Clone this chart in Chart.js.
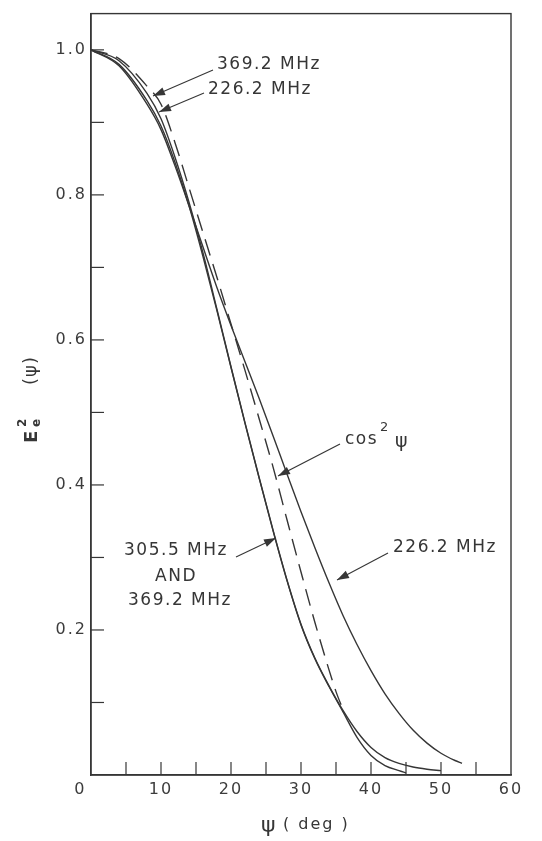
<!DOCTYPE html>
<html><head><meta charset="utf-8">
<script src="https://cdn.jsdelivr.net/npm/chart.js@4.4.1/dist/chart.umd.min.js"></script>
<style>html,body{margin:0;padding:0;background:#fff}canvas{display:block}</style>
</head><body>
<canvas id="c" width="542" height="841"></canvas>
<script>
// ---- data ----
const psi226 = [0, 4, 8, 10, 12, 14, 16, 18, 20, 22, 24, 26, 28, 30, 32, 34, 36, 38, 40, 42, 44, 46, 48, 50, 52, 53];
const e226   = [1.0, 0.978, 0.925, 0.89, 0.84, 0.785, 0.728, 0.672, 0.62, 0.57, 0.52, 0.468, 0.415, 0.363, 0.313, 0.265, 0.22, 0.18, 0.144, 0.112, 0.085, 0.062, 0.044, 0.03, 0.02, 0.016];

const psi305 = [0, 4, 8, 10, 12, 14, 16, 18, 20, 22, 24, 26, 28, 30, 32, 34, 36, 38, 40, 42, 44, 45];
const e305   = [1.0, 0.98, 0.93, 0.895, 0.845, 0.785, 0.715, 0.64, 0.562, 0.485, 0.41, 0.337, 0.268, 0.207, 0.16, 0.122, 0.087, 0.052, 0.027, 0.013, 0.006, 0.003];

const psi369 = [0, 4, 8, 10, 12, 14, 16, 18, 20, 22, 24, 26, 28, 30, 32, 34, 36, 38, 40, 42, 44, 46, 48, 50];
const e369   = [1.0, 0.985, 0.94, 0.905, 0.852, 0.79, 0.72, 0.642, 0.563, 0.486, 0.411, 0.338, 0.269, 0.208, 0.161, 0.123, 0.089, 0.06, 0.038, 0.024, 0.016, 0.011, 0.008, 0.006];

const psiCos = [0, 4, 8, 10, 12, 14, 16, 18, 20, 22, 24, 26, 28, 30, 32, 34, 35, 36];
const eCos   = [1.0, 0.988, 0.95, 0.925, 0.872, 0.81, 0.748, 0.686, 0.622, 0.558, 0.492, 0.425, 0.352, 0.28, 0.21, 0.145, 0.115, 0.09];

const xTickLabels = [0, 10, 20, 30, 40, 50, 60];
const yTickLabels = [0.2, 0.4, 0.6, 0.8, 1.0];

const INK = '#363636';
const FONT = 'DejaVu Sans';
function pts(xs, ys) { return xs.map((x, i) => ({ x: x, y: ys[i] })); }

function arrow(ctx, x1, y1, x2, y2) {
  ctx.beginPath(); ctx.moveTo(x1, y1); ctx.lineTo(x2, y2); ctx.stroke();
  const a = Math.atan2(y2 - y1, x2 - x1), L = 12, W = 4;
  ctx.beginPath();
  ctx.moveTo(x2, y2);
  ctx.lineTo(x2 - L * Math.cos(a) + W * Math.sin(a), y2 - L * Math.sin(a) - W * Math.cos(a));
  ctx.lineTo(x2 - L * Math.cos(a) - W * Math.sin(a), y2 - L * Math.sin(a) + W * Math.cos(a));
  ctx.closePath(); ctx.fill();
}

const decor = {
  id: 'decor',
  beforeDraw(chart) { chart.ctx.letterSpacing = '2px'; },
  afterDraw(chart) {
    const ctx = chart.ctx, a = chart.chartArea, xs = chart.scales.x, ys = chart.scales.y;
    ctx.save();
    ctx.strokeStyle = INK; ctx.fillStyle = INK; ctx.lineWidth = 1.4;
    ctx.strokeRect(a.left, a.top, a.right - a.left, a.bottom - a.top);
    // inward ticks
    ctx.lineWidth = 1.2;
    for (let v = 5; v < 60; v += 5) {
      const px = xs.getPixelForValue(v);
      ctx.beginPath(); ctx.moveTo(px, a.bottom); ctx.lineTo(px, a.bottom - 13); ctx.stroke();
    }
    for (let i = 1; i <= 10; i++) {
      const py = ys.getPixelForValue(i / 10);
      ctx.beginPath(); ctx.moveTo(a.left, py); ctx.lineTo(a.left + 13, py); ctx.stroke();
    }
    // annotations
    ctx.letterSpacing = '1.5px';
    ctx.font = '17px "' + FONT + '"';
    ctx.textBaseline = 'middle'; ctx.textAlign = 'left';
    ctx.lineWidth = 1.1;
    ctx.fillText('369.2 MHz', 217, 65);
    arrow(ctx, 213, 70, 153, 96);
    ctx.fillText('226.2 MHz', 208, 90);
    arrow(ctx, 204, 93, 159, 112);

    ctx.fillText('cos', 345, 440);
    ctx.font = '13px "' + FONT + '"';
    ctx.fillText('2', 380, 428);
    ctx.font = '19px "' + FONT + '"';
    ctx.fillText('\u03C8', 395, 442);
    arrow(ctx, 340, 444, 278, 476);

    ctx.font = '17px "' + FONT + '"';
    ctx.fillText('226.2 MHz', 393, 548);
    arrow(ctx, 388, 553, 337, 580);

    ctx.textAlign = 'center';
    ctx.fillText('305.5 MHz', 176, 551);
    ctx.fillText('AND', 176, 577);
    ctx.fillText('369.2 MHz', 180, 601);
    arrow(ctx, 236, 557, 276, 538);

    // x title
    ctx.textAlign = 'left';
    ctx.font = '22px "' + FONT + '"';
    ctx.fillText('\u03C8', 261, 826);
    ctx.font = '16px "' + FONT + '"';
    ctx.letterSpacing = '2px';
    ctx.fillText('( deg )', 283, 825);

    // y title (rotated)
    ctx.translate(31, 437);
    ctx.rotate(-Math.PI / 2);
    ctx.letterSpacing = '0px';
    ctx.font = 'bold 18px "' + FONT + '"';
    ctx.fillText('E', -6, 1);
    ctx.font = 'bold 12px "' + FONT + '"';
    ctx.fillText('2', 10, -8);
    ctx.fillText('e', 10, 6);
    ctx.letterSpacing = '1px';
    ctx.font = '18px "' + FONT + '"';
    ctx.fillText('(\u03C8)', 52, 0);
    ctx.restore();
  }
};

const lineStyle = { borderColor: INK, borderWidth: 1.4, pointRadius: 0, fill: false, cubicInterpolationMode: 'monotone' };

new Chart(document.getElementById('c'), {
  type: 'line',
  data: {
    datasets: [
      Object.assign({ label: '226.2 MHz', data: pts(psi226, e226) }, lineStyle),
      Object.assign({ label: '305.5 MHz', data: pts(psi305, e305) }, lineStyle),
      Object.assign({ label: '369.2 MHz', data: pts(psi369, e369) }, lineStyle),
      Object.assign({ label: 'cos\u00B2 \u03C8', data: pts(psiCos, eCos), borderDash: [17, 9] }, lineStyle)
    ]
  },
  options: {
    responsive: false,
    animation: false,
    devicePixelRatio: 1,
    layout: { padding: { top: 6, right: 31, left: 0, bottom: 0 } },
    plugins: { legend: { display: false }, tooltip: { enabled: false } },
    scales: {
      x: {
        type: 'linear', min: 0, max: 60,
        grid: { display: false, drawTicks: false },
        border: { display: true, color: INK, width: 1.4 },
        ticks: {
          stepSize: 5, autoSkip: false, maxRotation: 0, padding: 5,
          color: '#3c3c3c', font: { family: FONT, size: 16 },
          callback: v => v === 0 ? '0   ' : (xTickLabels.includes(v) ? String(v) : '')
        },
        afterFit(s) { s.height = 66; }
      },
      y: {
        type: 'linear', min: 0, max: 1.05,
        grid: { display: false, drawTicks: false },
        border: { display: true, color: INK, width: 1.4 },
        ticks: {
          stepSize: 0.1, autoSkip: false, padding: 4,
          color: '#3c3c3c', font: { family: FONT, size: 16 },
          callback: v => yTickLabels.some(t => Math.abs(t - v) < 1e-6) ? v.toFixed(1) : ''
        },
        afterFit(s) { s.width = 91; }
      }
    }
  },
  plugins: [decor]
});
</script>
</body></html>
